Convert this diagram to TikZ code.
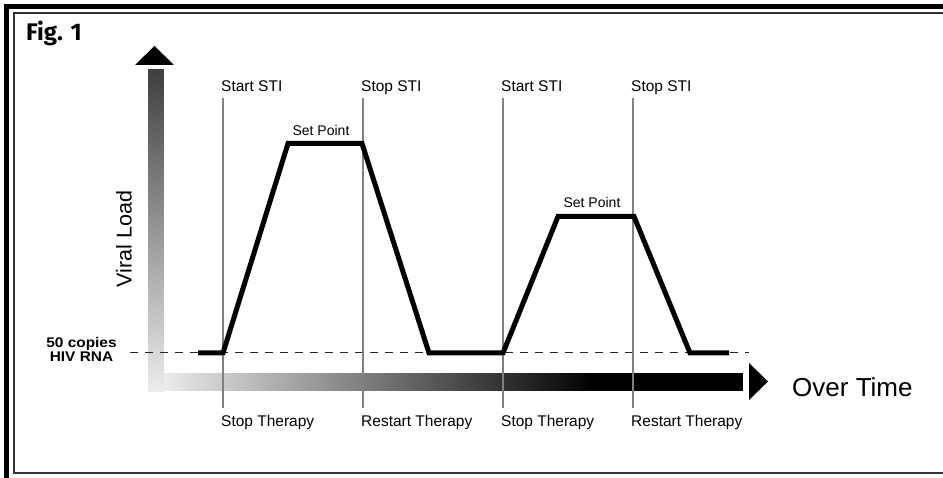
\documentclass[tikz,border=0pt]{standalone}
\usepackage{fontspec}
\usepackage{graphicx}
\setmainfont{Liberation Sans}
\newfontfamily\figfont{Fira Sans}
\tikzset{
  lbl/.style={inner sep=0pt, font=\fontsize{15.5}{18}\selectfont},
  setpt/.style={inner sep=0pt, font=\fontsize{14}{16}\selectfont},
  marker/.style={draw=black!50, line width=1.5pt},
  curve/.style={draw=black, line width=5pt, line join=miter},
  limit/.style={draw=black!85, line width=1pt, dash pattern=on 8pt off 7pt},
  hivlbl/.style={inner sep=0pt, anchor=base, font=\bfseries\fontsize{14}{16}\selectfont},
}
\begin{document}
\begin{tikzpicture}[x=1pt,y=-1pt]
\useasboundingbox (0,0) rectangle (943,478);
\clip (0,0) rectangle (943,478);
\fill[white] (0,0) rectangle (943,478);
% frame
\draw[line width=5pt, black] (6.5,490) -- (6.5,6.5) -- (960,6.5);
\draw[line width=2pt, black!80] (960,13.5) -- (13.5,13.5) -- (13.5,473) -- (960,473);
% title
\node[inner sep=0pt, anchor=base west, font=\figfont\bfseries\fontsize{24}{28}\selectfont] (fig) at (26,41) {Fig. 1};
% vertical gradient bar (top dark, bottom light)
\foreach \i in {0,...,160}{
  \pgfmathsetmacro\c{max(0,min(100,75-0.41875*\i))}
  \fill[black!\c] (148,69+2*\i) rectangle (164,71.6+2*\i);
}
% horizontal gradient bar (left light, right black)
\foreach \i in {0,...,215}{
  \pgfmathsetmacro\c{max(0,min(100,8+0.4279*\i))}
  \fill[black!\c] (164+2*\i,373) rectangle (166.6+2*\i,391);
}
\fill[black] (595,373) rectangle (743,391);
\fill[black] (135,65) -- (174,65) -- (154.5,46) -- cycle;
\fill[black] (749,363) -- (749,400) -- (768,381.5) -- cycle;
% axis labels
\node[inner sep=0pt, anchor=base west, font=\fontsize{26}{30}\selectfont] (time) at (792,396) {Over Time};
\node[inner sep=0pt, rotate=90, font=\fontsize{21.5}{26}\selectfont] (vload) at (124,239) {Viral Load};
\node[hivlbl] (c50) at (81.5,348) {\scalebox{1.1}[1]{50 copies}};
\node[hivlbl] (hiv) at (81.5,362) {\scalebox{1.1}[1]{HIV RNA}};
% dashed limit
\coordinate (dl) at (130,353);
\coordinate (dr) at (749,353);
\draw[limit] (dl) -- (dr);
% marker lines
\foreach \n/\x in {a/223,b/363,c/503,d/633}{
  \coordinate (\n top) at (\x,98);
  \coordinate (\n bot) at (\x,408);
  \draw[marker] (\n top) -- (\n bot);
}
\node[lbl, anchor=base west] (s1) at (221,92) {Start STI};
\node[lbl, anchor=base west] (s2) at (361,92) {Stop STI};
\node[lbl, anchor=base west] (s3) at (501,92) {Start STI};
\node[lbl, anchor=base west] (s4) at (631,92) {Stop STI};
\node[lbl, anchor=base west] (t1) at (221,426) {Stop Therapy};
\node[lbl, anchor=base west] (t2) at (361,426) {Restart Therapy};
\node[lbl, anchor=base west] (t3) at (501,426) {Stop Therapy};
\node[lbl, anchor=base west] (t4) at (631,426) {Restart Therapy};
% viral load curve
\coordinate (p0) at (198,353);
\coordinate (p1) at (223,353);
\coordinate (p2) at (288,143.5);
\coordinate (p3) at (362,143.5);
\coordinate (p4) at (429,353);
\coordinate (p5) at (503,353);
\coordinate (p6) at (558,216.5);
\coordinate (p7) at (634,216.5);
\coordinate (p8) at (690,353);
\coordinate (p9) at (729,353);
\draw[curve] (p0) -- (p1) -- (p2) -- (p3) -- (p4) -- (p5) -- (p6) -- (p7) -- (p8) -- (p9);
\node[setpt, anchor=base] (sp1) at (321,136) {Set Point};
\node[setpt, anchor=base] (sp2) at (592,208) {Set Point};
\end{tikzpicture}
\end{document}
